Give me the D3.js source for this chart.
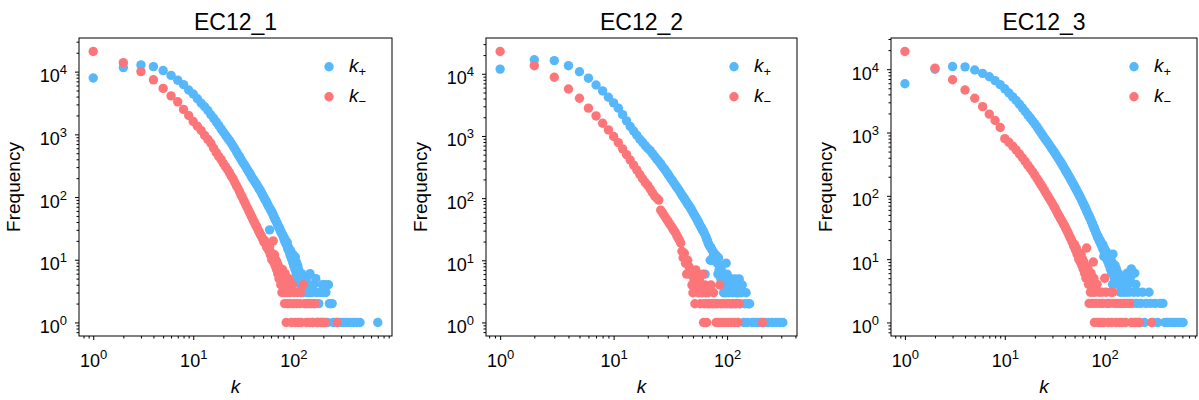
<!DOCTYPE html>
<html><head><meta charset="utf-8">
<script src="https://cdn.jsdelivr.net/npm/d3@7"></script>
<style>
body{margin:0;background:#fff}
svg{display:block}
text{font-family:"Liberation Sans",Arial,Helvetica,sans-serif;fill:#000}
</style>
</head><body>
<svg id="chart" width="1199" height="400"></svg>
<script>
// ---------------- DATA ----------------
const titles = ["EC12_1", "EC12_2", "EC12_3"];
const seriesNames = ["+", "\u2212"];

// EC12_1 : k+ (frequencies for k = 1,2,3,... then sparse tail [k, frequency])
const ec1PlusHead = [7900,11600,12800,12000,10400,8700,7300,6200,5100,4400,
 3700,3150,2750,2400,2050,1800,1580,1390,1220,1090,
 970,880,800,720,650,590,530,480,440,400,
 365,340,315,290,270,250,235,215,200,190,
 178,168,158,150,140,132,126,118,110,104,
 98,92,88,84,78,74,70,30,64,60,
 58,55,52,49,46,44,42,40,38,36,
 34,33,31,30,28,27,26,25,24,23,
 21,22,19,20,18,17,19,15,16,14,
 15,13,12,14,11,12,10,11,9,12,
 8,10,9,7,11,8,6,9,7,5,
 8,6,7,5];
const ec1PlusTail = [[116,6],[117,4],[118,5],[120,3],[121,6],[123,4],[125,5],[127,3],[130,4],[132,2],[135,5],[138,3],[140,2],[143,4],[146,3],[147,6],[150,2],[153,3],[157,1],[160,4],[163,2],[168,5],[170,3],[175,1],[180,2],[185,3],[190,1],[195,4],[200,3],[207,4],[212,3],[220,1],[225,4],[230,2],[236,2],[245,2],[250,1],[265,1],[280,1],[300,1],[320,1],[345,1],[370,1],[400,1],[430,1],[465,1],[700,1]];
// EC12_1 : k-
const ec1MinusHead = [20900,13900,10000,7400,5400,4100,3300,2500,2000,1600,
 1350,1150,960,830,720,600,510,445,395,345,
 305,275,245,215,195,172,152,138,122,108,
 98,88,80,72,66,60,55,50,46,42,
 39,36,34,31,29,27,25,24,22,21,
 19,20,18,16,17,15,14,16,12,13,
 10,11,20,9,12,8,10,7,9,6,
 8,5,7,6,4,5,3,7,4,5];
const ec1MinusTail = [[81,3],[82,2],[83,6],[84,3],[85,1],[86,4],[88,2],[89,3],[90,5],[92,2],[94,3],[96,1],[98,4],[100,2],[102,3],[105,1],[108,2],[110,3],[113,1],[116,2],[118,3],[120,1],[126,4],[130,2],[135,1],[140,2],[145,1],[150,2],[155,1],[160,2],[165,2],[172,1],[180,1],[190,1],[200,1],[208,1],[275,1]];

// EC12_2 : k+
const ec2PlusHead = [11900,16800,16300,13500,10800,8500,6600,5300,4200,3400,
 2800,2200,1750,1420,1200,1030,890,790,700,630,
 580,520,470,425,390,355,320,295,270,245,
 225,205,190,175,162,150,140,130,121,112,
 105,98,92,86,80,76,72,67,63,59,
 55,52,49,46,43,41,38,36,34,32,
 30,29,27,6,24,22,21,19,18,17,
 10,16,15,10,14,12,13,10,11,12,
 10,9,6,11,7,8,6,5,7,4,
 6,5,3,6,4,5,3,9,4,6];
const ec2PlusTail = [[102,5],[104,3],[106,4],[108,2],[110,5],[112,3],[114,4],[116,2],[118,5],[120,3],[122,4],[124,1],[126,3],[128,5],[130,2],[133,3],[136,4],[140,1],[143,2],[147,3],[150,1],[154,2],[158,2],[165,1],[172,1],[180,1],[190,1],[200,1],[215,1],[230,1],[250,1],[270,1],[290,1],[310,1]];
// EC12_2 : k-
const ec2MinusHead = [22800,13500,8800,5700,4050,2800,2100,1600,1250,980,
 780,620,500,410,340,285,240,205,178,160,
 140,122,108,100,93,64,58,52,47,43,
 39,36,33,30,28,25,23,21,19,14,
 11,13,9,6,10,8,6,7,4,3,
 5,2,7,4,6,3,5,2,4,3];
const ec2MinusTail = [[61,6],[62,1],[63,2],[64,4],[65,3],[66,1],[67,2],[68,3],[70,2],[72,4],[74,2],[76,3],[78,2],[80,1],[82,2],[84,1],[86,4],[88,2],[90,1],[93,2],[96,1],[99,2],[102,1],[105,2],[108,1],[112,2],[116,1],[120,2],[125,1],[128,2],[205,1]];

// EC12_3 : k+
const ec3PlusHead = [5900,10000,11000,10900,9700,8600,7600,6600,5700,4900,
 4200,3650,3200,2800,2450,2150,1900,1700,1520,1370,
 1230,1100,990,900,820,750,690,635,585,540,
 500,465,430,400,372,346,322,300,280,262,
 245,230,215,202,190,178,168,158,149,140,
 132,125,118,112,106,100,95,90,85,80,
 76,72,68,65,61,58,55,52,50,47,
 45,43,41,39,37,35,33,32,30,29,
 27,26,25,24,22,23,21,20,19,20,
 18,17,18,16,15,17,14,11,15,13,
 14,12,11,13,10,12,11,9,12,10,
 8,11,9,7,10,8,6,9,7,4,
 12,8,6,7,5];
const ec3PlusTail = [[127,8],[129,6],[131,7],[133,5],[135,4],[137,6],[140,5],[143,3],[146,4],[150,5],[153,3],[156,4],[160,2],[164,3],[168,6],[172,4],[176,3],[180,5],[185,7],[190,2],[195,3],[200,6],[205,4],[210,2],[215,3],[222,1],[230,2],[240,3],[250,1],[260,2],[278,3],[290,2],[305,1],[320,2],[340,1],[360,2],[383,2],[400,1],[425,1],[450,1],[480,1],[510,1],[545,1],[575,1],[610,1]];
// EC12_3 : k-
const ec3MinusHead = [19000,10400,6800,4700,3470,2560,1950,1550,1200,800,
 700,610,530,460,400,350,305,270,240,212,
 188,168,150,135,121,109,99,90,82,75,
 68,63,57,52,48,44,41,38,35,33,
 30,28,26,24,22,21,19,18,16,17,
 14,15,12,13,10,11,9,12,8,10,
 7,9,6,8,5,15,6,7,4,2,
 5,3,6,4,2,3,9,5,1,3];
const ec3MinusTail = [[82,2],[84,4],[86,1],[88,3],[90,2],[92,1],[94,3],[96,2],[98,1],[100,5],[103,3],[106,2],[109,1],[112,2],[115,3],[118,1],[121,3],[125,2],[130,1],[135,2],[140,1],[145,2],[150,1],[156,2],[162,1],[170,2],[178,2],[185,1],[195,1],[205,1],[215,1],[224,1],[295,1]];

// ---------------- LAYOUT / STYLE ----------------
const W = 1199, H = 400;
const layout = [{left:79, right:392}, {left:486, right:797}, {left:891, right:1197}];
const plotTop = 38, plotBottom = 336;
const colors = ["#57b7fb", "#fc7679"];
const R = 4.7;

const panels = [
  {plus: ec1PlusHead.map((f,j)=>[j+1,f]).concat(ec1PlusTail), minus: ec1MinusHead.map((f,j)=>[j+1,f]).concat(ec1MinusTail)},
  {plus: ec2PlusHead.map((f,j)=>[j+1,f]).concat(ec2PlusTail), minus: ec2MinusHead.map((f,j)=>[j+1,f]).concat(ec2MinusTail)},
  {plus: ec3PlusHead.map((f,j)=>[j+1,f]).concat(ec3PlusTail), minus: ec3MinusHead.map((f,j)=>[j+1,f]).concat(ec3MinusTail)}
];

function padLog(vals){
  const lo = Math.log10(d3.min(vals)), hi = Math.log10(d3.max(vals));
  const p = 0.05*(hi-lo);
  return [Math.pow(10, lo-p), Math.pow(10, hi+p)];
}
function minorTicks(dom){
  const out = [];
  for (let e=-2; e<=6; e++) for (let m=2; m<=9; m++){
    const v = m*Math.pow(10,e);
    if (v>=dom[0] && v<=dom[1]) out.push(v);
  }
  return out;
}
function majorTicks(dom){
  const out = [];
  for (let e=-2; e<=6; e++){ const v=Math.pow(10,e); if (v>=dom[0] && v<=dom[1]) out.push(v); }
  return out;
}
function powLabel(sel){
  sel.each(function(d){
    const t = d3.select(this);
    t.text(null);
    t.append("tspan").text("10");
    t.append("tspan").attr("font-size", 13).attr("dy", -8).text(Math.round(Math.log10(d)));
  });
}

const svg = d3.select("#chart");
const defs = svg.append("defs");

panels.forEach((p, i) => {
  const L = layout[i];
  const all = p.plus.concat(p.minus);
  const x = d3.scaleLog().domain(padLog(all.map(d=>d[0]))).range([L.left, L.right]);
  const y = d3.scaleLog().domain(padLog(all.map(d=>d[1]))).range([plotBottom, plotTop]);
  const g = svg.append("g");

  defs.append("clipPath").attr("id", "clip"+i).append("rect")
    .attr("x", L.left).attr("y", plotTop).attr("width", L.right-L.left).attr("height", plotBottom-plotTop);

  const pts = g.append("g").attr("clip-path", "url(#clip"+i+")");
  [p.plus, p.minus].forEach((s, si) => {
    pts.append("g").selectAll("circle").data(s).join("circle")
      .attr("cx", d=>x(d[0])).attr("cy", d=>y(d[1])).attr("r", R)
      .attr("fill", colors[si]);
  });

  // frame
  g.append("rect").attr("x", L.left).attr("y", plotTop)
    .attr("width", L.right-L.left).attr("height", plotBottom-plotTop)
    .attr("fill", "none").attr("stroke", "#000").attr("stroke-width", 1);

  // x axis
  const gx = g.append("g").attr("transform", `translate(0,${plotBottom})`)
    .call(d3.axisBottom(x).tickValues(majorTicks(x.domain())).tickSizeInner(4).tickSizeOuter(0));
  gx.select(".domain").remove();
  gx.selectAll(".tick text").attr("y", 31).attr("dy", 0).attr("font-size", 18)
    .attr("font-family", '"Liberation Sans",Arial,sans-serif').call(powLabel);
  const gxm = g.append("g").attr("transform", `translate(0,${plotBottom})`)
    .call(d3.axisBottom(x).tickValues(minorTicks(x.domain())).tickSize(2.5).tickFormat(""));
  gxm.select(".domain").remove();

  // y axis
  const gy = g.append("g").attr("transform", `translate(${L.left},0)`)
    .call(d3.axisLeft(y).tickValues(majorTicks(y.domain())).tickSizeInner(4).tickSizeOuter(0));
  gy.select(".domain").remove();
  gy.selectAll(".tick text").attr("x", -12).attr("y", 10).attr("dy", 0).attr("font-size", 18)
    .attr("font-family", '"Liberation Sans",Arial,sans-serif').call(powLabel);
  const gym = g.append("g").attr("transform", `translate(${L.left},0)`)
    .call(d3.axisLeft(y).tickValues(minorTicks(y.domain())).tickSize(2.5).tickFormat(""));
  gym.select(".domain").remove();
  g.selectAll(".tick line").attr("stroke", "#000");

  const cxAxes = (L.left + L.right) / 2;
  // title
  g.append("text").attr("x", cxAxes).attr("y", 30).attr("text-anchor", "middle")
    .attr("font-size", 23).text(titles[i]);
  // axis labels
  g.append("text").attr("x", cxAxes).attr("y", 393).attr("text-anchor", "middle")
    .attr("font-size", 19).attr("font-style", "italic").text("k");
  g.append("text").attr("transform", `translate(${L.left-59},${(plotTop+plotBottom)/2}) rotate(-90)`)
    .attr("text-anchor", "middle").attr("font-size", 19).text("Frequency");

  // legend
  const lx = L.right - 63;
  seriesNames.forEach((nm, si) => {
    const ly = 66.7 + si*30;
    g.append("circle").attr("cx", lx).attr("cy", ly).attr("r", R).attr("fill", colors[si]);
    const t = g.append("text").attr("x", lx+20).attr("y", ly+5).attr("font-size", 19);
    t.append("tspan").attr("font-style", "italic").text("k");
    t.append("tspan").attr("font-size", 13).attr("dy", 4).text(nm);
  });
});
</script>
</body></html>
